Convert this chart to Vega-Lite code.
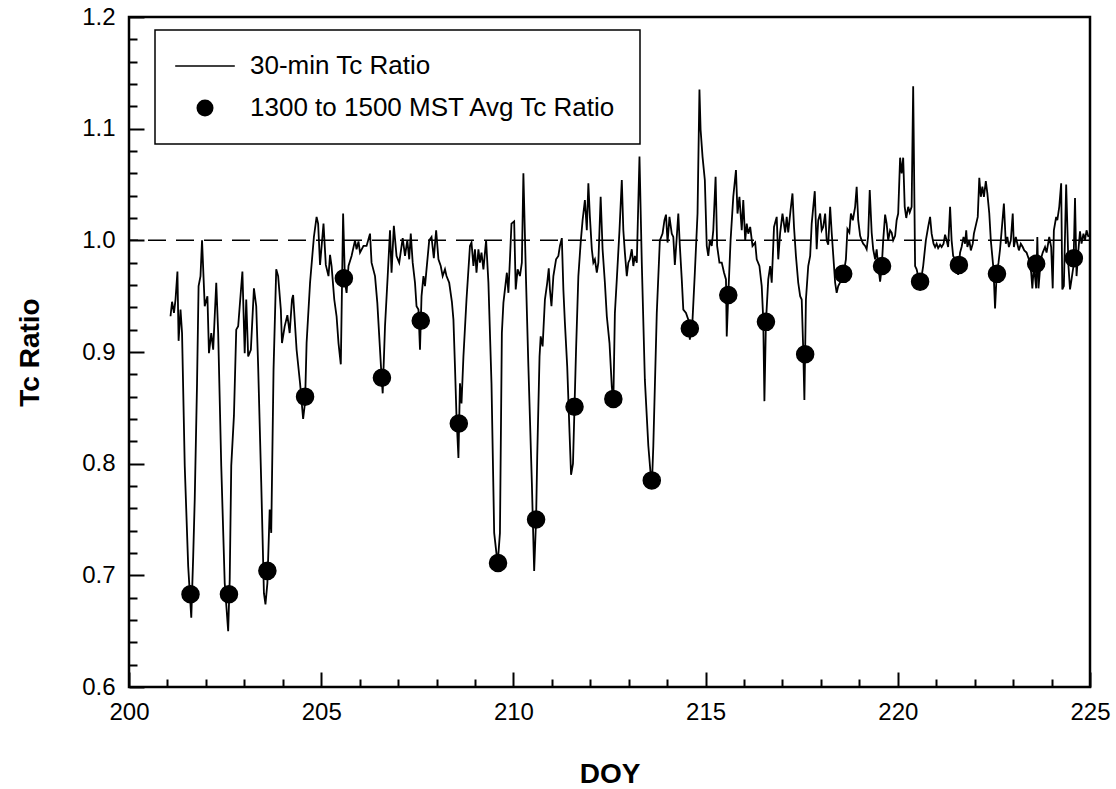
{
 "$schema": "https://vega.github.io/schema/vega-lite/v6.json",
 "width": 961, "height": 670,
 "autosize": {"type": "none"},
 "padding": {"left": 129, "top": 17, "right": 26, "bottom": 102},
 "background": "white",
 "config": {
  "font": "Liberation Sans",
  "view": {"stroke": "black", "strokeWidth": 2.5},
  "legend": {"strokeWidth": 1.5},
  "axis": {"grid": false, "domain": false, "tickColor": "black", "tickWidth": 2, "labelColor": "black", "labelFont": "Liberation Sans", "labelFontSize": 24, "titleFont": "Liberation Sans", "titleFontWeight": "bold", "titleColor": "black", "titleFontSize": 28}
 },
 "datasets": {
  "tc": [
{"DOY":201.08,"ratio":0.932},{"DOY":201.12,"ratio":0.945},{"DOY":201.17,"ratio":0.935},{"DOY":201.21,"ratio":0.947},{"DOY":201.26,"ratio":0.972},{"DOY":201.29,"ratio":0.910},{"DOY":201.34,"ratio":0.938},{"DOY":201.38,"ratio":0.917},{"DOY":201.45,"ratio":0.798},{"DOY":201.54,"ratio":0.708},{"DOY":201.62,"ratio":0.662},{"DOY":201.67,"ratio":0.717},{"DOY":201.71,"ratio":0.768},{"DOY":201.77,"ratio":0.872},{"DOY":201.81,"ratio":0.959},{"DOY":201.86,"ratio":0.968},{"DOY":201.90,"ratio":1.0},{"DOY":201.97,"ratio":0.941},{"DOY":202.04,"ratio":0.950},{"DOY":202.08,"ratio":0.899},{"DOY":202.14,"ratio":0.917},{"DOY":202.19,"ratio":0.902},{"DOY":202.23,"ratio":0.932},{"DOY":202.27,"ratio":0.962},{"DOY":202.32,"ratio":0.917},{"DOY":202.40,"ratio":0.798},{"DOY":202.49,"ratio":0.693},{"DOY":202.58,"ratio":0.650},{"DOY":202.62,"ratio":0.696},{"DOY":202.66,"ratio":0.798},{"DOY":202.73,"ratio":0.843},{"DOY":202.79,"ratio":0.920},{"DOY":202.84,"ratio":0.923},{"DOY":202.95,"ratio":0.972},{"DOY":203.01,"ratio":0.899},{"DOY":203.05,"ratio":0.947},{"DOY":203.10,"ratio":0.896},{"DOY":203.17,"ratio":0.902},{"DOY":203.25,"ratio":0.957},{"DOY":203.31,"ratio":0.941},{"DOY":203.36,"ratio":0.887},{"DOY":203.44,"ratio":0.783},{"DOY":203.51,"ratio":0.684},{"DOY":203.55,"ratio":0.674},{"DOY":203.60,"ratio":0.693},{"DOY":203.66,"ratio":0.759},{"DOY":203.70,"ratio":0.738},{"DOY":203.76,"ratio":0.884},{"DOY":203.83,"ratio":0.974},{"DOY":203.88,"ratio":0.968},{"DOY":203.95,"ratio":0.938},{"DOY":203.98,"ratio":0.908},{"DOY":204.05,"ratio":0.923},{"DOY":204.12,"ratio":0.933},{"DOY":204.18,"ratio":0.917},{"DOY":204.24,"ratio":0.947},
{"DOY":204.27,"ratio":0.951},{"DOY":204.36,"ratio":0.902},{"DOY":204.45,"ratio":0.872},{"DOY":204.53,"ratio":0.840},{"DOY":204.58,"ratio":0.855},{"DOY":204.62,"ratio":0.908},{"DOY":204.71,"ratio":0.962},{"DOY":204.81,"ratio":1.003},{"DOY":204.88,"ratio":1.021},{"DOY":204.92,"ratio":1.015},{"DOY":204.97,"ratio":0.978},{"DOY":205.06,"ratio":1.015},{"DOY":205.12,"ratio":0.978},{"DOY":205.19,"ratio":0.968},{"DOY":205.23,"ratio":0.987},{"DOY":205.27,"ratio":0.977},{"DOY":205.34,"ratio":0.947},{"DOY":205.40,"ratio":0.932},{"DOY":205.45,"ratio":0.908},{"DOY":205.51,"ratio":0.889},{"DOY":205.57,"ratio":1.024},{"DOY":205.62,"ratio":0.962},{"DOY":205.66,"ratio":0.953},{"DOY":205.71,"ratio":0.977},{"DOY":205.79,"ratio":0.986},{"DOY":205.88,"ratio":1.0},{"DOY":205.92,"ratio":0.992},{"DOY":205.97,"ratio":0.999},{"DOY":206.01,"ratio":0.989},{"DOY":206.10,"ratio":0.995},{"DOY":206.18,"ratio":0.995},{"DOY":206.27,"ratio":1.006},{"DOY":206.31,"ratio":0.980},{"DOY":206.40,"ratio":0.968},{"DOY":206.46,"ratio":0.944},{"DOY":206.51,"ratio":0.914},{"DOY":206.57,"ratio":0.878},{"DOY":206.60,"ratio":0.863},{"DOY":206.66,"ratio":0.923},{"DOY":206.73,"ratio":0.968},{"DOY":206.79,"ratio":1.009},{"DOY":206.83,"ratio":0.971},{"DOY":206.89,"ratio":1.013},{"DOY":206.96,"ratio":0.986},{"DOY":207.03,"ratio":0.980},{"DOY":207.12,"ratio":1.002},{"DOY":207.18,"ratio":0.986},{"DOY":207.24,"ratio":1.0},{"DOY":207.29,"ratio":0.983},{"DOY":207.33,"ratio":1.006},{"DOY":207.38,"ratio":0.980},{"DOY":207.44,"ratio":0.962},{"DOY":207.48,"ratio":0.941},{"DOY":207.53,"ratio":0.938},{"DOY":207.57,"ratio":0.902},{"DOY":207.61,"ratio":0.950},{"DOY":207.66,"ratio":0.968},{"DOY":207.70,"ratio":0.959},{"DOY":207.74,"ratio":0.974},{"DOY":207.81,"ratio":1.0},{"DOY":207.87,"ratio":1.003},{"DOY":207.93,"ratio":0.984},{"DOY":207.99,"ratio":1.009},{"DOY":208.05,"ratio":0.983},{"DOY":208.11,"ratio":0.977},{"DOY":208.16,"ratio":0.968},{"DOY":208.22,"ratio":0.974},{"DOY":208.26,"ratio":0.968},{"DOY":208.33,"ratio":0.962},
{"DOY":208.40,"ratio":0.945},{"DOY":208.44,"ratio":0.929},{"DOY":208.48,"ratio":0.887},{"DOY":208.52,"ratio":0.842},{"DOY":208.57,"ratio":0.805},{"DOY":208.61,"ratio":0.872},{"DOY":208.65,"ratio":0.854},{"DOY":208.70,"ratio":0.896},{"DOY":208.78,"ratio":0.947},{"DOY":208.87,"ratio":0.995},{"DOY":208.91,"ratio":0.998},{"DOY":208.96,"ratio":0.977},{"DOY":209.00,"ratio":0.992},{"DOY":209.04,"ratio":0.971},{"DOY":209.09,"ratio":0.992},{"DOY":209.13,"ratio":0.980},{"DOY":209.17,"ratio":0.989},{"DOY":209.22,"ratio":0.974},{"DOY":209.29,"ratio":1.0},{"DOY":209.35,"ratio":0.962},{"DOY":209.43,"ratio":0.872},{"DOY":209.50,"ratio":0.738},{"DOY":209.59,"ratio":0.710},{"DOY":209.65,"ratio":0.738},{"DOY":209.70,"ratio":0.917},{"DOY":209.74,"ratio":0.944},{"DOY":209.78,"ratio":0.956},{"DOY":209.83,"ratio":0.971},{"DOY":209.87,"ratio":0.953},{"DOY":209.91,"ratio":0.983},{"DOY":209.95,"ratio":1.015},{"DOY":210.02,"ratio":1.017},{"DOY":210.06,"ratio":0.956},{"DOY":210.11,"ratio":0.974},{"DOY":210.17,"ratio":0.968},{"DOY":210.22,"ratio":0.980},{"DOY":210.26,"ratio":1.060},{"DOY":210.33,"ratio":0.962},{"DOY":210.39,"ratio":0.887},{"DOY":210.48,"ratio":0.783},{"DOY":210.54,"ratio":0.704},{"DOY":210.59,"ratio":0.750},{"DOY":210.62,"ratio":0.807},{"DOY":210.68,"ratio":0.896},{"DOY":210.71,"ratio":0.914},{"DOY":210.76,"ratio":0.905},{"DOY":210.82,"ratio":0.947},{"DOY":210.88,"ratio":0.962},{"DOY":210.92,"ratio":0.975},{"DOY":210.95,"ratio":0.956},{"DOY":210.99,"ratio":0.941},{"DOY":211.04,"ratio":0.968},{"DOY":211.11,"ratio":0.983},{"DOY":211.17,"ratio":0.986},{"DOY":211.21,"ratio":0.995},{"DOY":211.26,"ratio":1.002},{"DOY":211.30,"ratio":0.956},{"DOY":211.34,"ratio":0.926},{"DOY":211.40,"ratio":0.887},{"DOY":211.46,"ratio":0.828},{"DOY":211.50,"ratio":0.790},{"DOY":211.55,"ratio":0.800},{"DOY":211.59,"ratio":0.851},{"DOY":211.63,"ratio":0.902},{"DOY":211.69,"ratio":0.968},{"DOY":211.75,"ratio":0.998},{"DOY":211.80,"ratio":1.018},{"DOY":211.86,"ratio":1.036},{"DOY":211.91,"ratio":1.009},{"DOY":211.95,"ratio":1.051},{"DOY":211.99,"ratio":1.021},{"DOY":212.04,"ratio":0.992},{"DOY":212.08,"ratio":0.980},{"DOY":212.12,"ratio":0.983},{"DOY":212.17,"ratio":0.971},{"DOY":212.21,"ratio":0.980},{"DOY":212.27,"ratio":1.039},{"DOY":212.32,"ratio":0.992},{"DOY":212.38,"ratio":0.962},{"DOY":212.43,"ratio":0.932},{"DOY":212.50,"ratio":0.908},
{"DOY":212.56,"ratio":0.869},{"DOY":212.60,"ratio":0.855},{"DOY":212.64,"ratio":0.935},{"DOY":212.69,"ratio":0.965},{"DOY":212.76,"ratio":1.009},{"DOY":212.82,"ratio":1.054},{"DOY":212.86,"ratio":1.009},{"DOY":212.90,"ratio":0.989},{"DOY":212.95,"ratio":0.968},{"DOY":212.99,"ratio":0.980},{"DOY":213.03,"ratio":0.983},{"DOY":213.08,"ratio":0.992},{"DOY":213.12,"ratio":0.977},{"DOY":213.16,"ratio":0.986},{"DOY":213.21,"ratio":0.980},{"DOY":213.28,"ratio":1.075},{"DOY":213.34,"ratio":0.980},{"DOY":213.42,"ratio":0.875},{"DOY":213.51,"ratio":0.816},{"DOY":213.60,"ratio":0.778},{"DOY":213.64,"ratio":0.816},{"DOY":213.73,"ratio":0.935},{"DOY":213.81,"ratio":1.0},{"DOY":213.88,"ratio":1.006},{"DOY":213.93,"ratio":1.018},{"DOY":213.97,"ratio":1.023},{"DOY":214.01,"ratio":0.998},{"DOY":214.06,"ratio":1.021},{"DOY":214.12,"ratio":1.006},{"DOY":214.16,"ratio":1.003},{"DOY":214.20,"ratio":0.978},{"DOY":214.25,"ratio":1.003},{"DOY":214.29,"ratio":1.024},{"DOY":214.33,"ratio":0.995},{"DOY":214.38,"ratio":0.965},{"DOY":214.42,"ratio":0.938},{"DOY":214.49,"ratio":0.935},{"DOY":214.55,"ratio":0.929},{"DOY":214.59,"ratio":0.911},{"DOY":214.66,"ratio":0.929},{"DOY":214.72,"ratio":0.971},{"DOY":214.79,"ratio":1.024},{"DOY":214.84,"ratio":1.135},{"DOY":214.87,"ratio":1.099},{"DOY":214.92,"ratio":1.075},{"DOY":214.98,"ratio":1.054},{"DOY":215.03,"ratio":0.995},{"DOY":215.07,"ratio":0.986},{"DOY":215.11,"ratio":1.0},{"DOY":215.16,"ratio":0.995},{"DOY":215.20,"ratio":1.009},{"DOY":215.26,"ratio":1.057},{"DOY":215.30,"ratio":0.995},{"DOY":215.36,"ratio":0.980},{"DOY":215.42,"ratio":0.980},{"DOY":215.48,"ratio":0.971},{"DOY":215.53,"ratio":0.965},{"DOY":215.55,"ratio":0.914},{"DOY":215.59,"ratio":0.951},{"DOY":215.65,"ratio":1.0},{"DOY":215.72,"ratio":1.039},{"DOY":215.79,"ratio":1.063},{"DOY":215.83,"ratio":1.024},{"DOY":215.88,"ratio":1.039},{"DOY":215.94,"ratio":1.009},{"DOY":215.98,"ratio":1.036},{"DOY":216.03,"ratio":1.0},{"DOY":216.07,"ratio":1.015},{"DOY":216.11,"ratio":1.006},{"DOY":216.16,"ratio":1.012},{"DOY":216.22,"ratio":0.995},{"DOY":216.29,"ratio":0.998},{"DOY":216.33,"ratio":0.983},{"DOY":216.40,"ratio":0.977},{"DOY":216.46,"ratio":0.959},{"DOY":216.50,"ratio":0.929},{"DOY":216.53,"ratio":0.856},{"DOY":216.57,"ratio":0.927},{"DOY":216.63,"ratio":0.965},
{"DOY":216.68,"ratio":0.977},{"DOY":216.72,"ratio":0.962},{"DOY":216.78,"ratio":1.012},{"DOY":216.85,"ratio":1.021},{"DOY":216.89,"ratio":0.983},{"DOY":216.94,"ratio":1.007},{"DOY":217.00,"ratio":1.024},{"DOY":217.07,"ratio":1.007},{"DOY":217.11,"ratio":1.021},{"DOY":217.15,"ratio":1.007},{"DOY":217.21,"ratio":1.027},{"DOY":217.26,"ratio":1.042},{"DOY":217.30,"ratio":1.012},{"DOY":217.35,"ratio":0.986},{"DOY":217.41,"ratio":0.962},{"DOY":217.46,"ratio":0.950},{"DOY":217.50,"ratio":0.947},{"DOY":217.54,"ratio":0.902},{"DOY":217.57,"ratio":0.857},{"DOY":217.61,"ratio":0.947},{"DOY":217.67,"ratio":0.977},{"DOY":217.72,"ratio":0.986},{"DOY":217.76,"ratio":1.015},{"DOY":217.84,"ratio":1.044},{"DOY":217.89,"ratio":0.992},{"DOY":217.93,"ratio":1.018},{"DOY":217.98,"ratio":1.024},{"DOY":218.02,"ratio":1.009},{"DOY":218.06,"ratio":1.012},{"DOY":218.11,"ratio":1.024},{"DOY":218.15,"ratio":1.0},{"DOY":218.19,"ratio":0.996},{"DOY":218.24,"ratio":1.03},{"DOY":218.28,"ratio":1.007},{"DOY":218.37,"ratio":0.962},{"DOY":218.41,"ratio":0.953},{"DOY":218.45,"ratio":0.959},{"DOY":218.51,"ratio":0.963},{"DOY":218.58,"ratio":0.968},{"DOY":218.65,"ratio":0.983},{"DOY":218.69,"ratio":1.010},{"DOY":218.74,"ratio":1.007},{"DOY":218.78,"ratio":1.024},{"DOY":218.83,"ratio":1.018},{"DOY":218.89,"ratio":1.030},{"DOY":218.93,"ratio":1.048},{"DOY":218.97,"ratio":1.018},{"DOY":219.02,"ratio":1.004},{"DOY":219.06,"ratio":1.0},{"DOY":219.10,"ratio":0.997},{"DOY":219.15,"ratio":0.995},{"DOY":219.19,"ratio":0.992},{"DOY":219.23,"ratio":1.004},{"DOY":219.27,"ratio":1.045},{"DOY":219.32,"ratio":1.007},{"DOY":219.36,"ratio":0.992},{"DOY":219.41,"ratio":0.983},{"DOY":219.45,"ratio":0.992},{"DOY":219.49,"ratio":0.977},{"DOY":219.54,"ratio":0.963},{"DOY":219.58,"ratio":0.975},{"DOY":219.62,"ratio":1.0},{"DOY":219.67,"ratio":1.023},{"DOY":219.71,"ratio":1.015},{"DOY":219.75,"ratio":1.0},{"DOY":219.80,"ratio":1.009},{"DOY":219.84,"ratio":1.007},{"DOY":219.88,"ratio":1.0},{"DOY":219.93,"ratio":1.004},{"DOY":219.97,"ratio":1.018},{"DOY":220.01,"ratio":1.024},{"DOY":220.06,"ratio":1.074},{"DOY":220.10,"ratio":1.060},{"DOY":220.14,"ratio":1.074},{"DOY":220.18,"ratio":1.030},{"DOY":220.22,"ratio":1.020},{"DOY":220.27,"ratio":1.030},{"DOY":220.31,"ratio":1.025},{"DOY":220.36,"ratio":1.030},{"DOY":220.40,"ratio":1.138},{"DOY":220.45,"ratio":0.977},{"DOY":220.49,"ratio":0.974},{"DOY":220.53,"ratio":0.968},{"DOY":220.58,"ratio":0.958},{"DOY":220.62,"ratio":0.968},{"DOY":220.66,"ratio":0.977},{"DOY":220.73,"ratio":1.0},{"DOY":220.79,"ratio":1.012},
{"DOY":220.84,"ratio":1.021},{"DOY":220.88,"ratio":1.006},{"DOY":220.93,"ratio":0.997},{"DOY":220.97,"ratio":0.994},{"DOY":221.01,"ratio":0.997},{"DOY":221.05,"ratio":0.993},{"DOY":221.10,"ratio":0.996},{"DOY":221.14,"ratio":0.994},{"DOY":221.19,"ratio":0.997},{"DOY":221.23,"ratio":1.005},{"DOY":221.27,"ratio":1.0},{"DOY":221.31,"ratio":0.994},{"DOY":221.36,"ratio":1.030},{"DOY":221.40,"ratio":1.0},{"DOY":221.44,"ratio":0.986},{"DOY":221.53,"ratio":0.981},{"DOY":221.57,"ratio":0.969},{"DOY":221.62,"ratio":0.989},{"DOY":221.66,"ratio":0.994},{"DOY":221.71,"ratio":1.003},{"DOY":221.75,"ratio":0.997},{"DOY":221.78,"ratio":1.009},{"DOY":221.81,"ratio":0.994},{"DOY":221.86,"ratio":1.0},{"DOY":221.90,"ratio":0.991},{"DOY":221.95,"ratio":0.997},{"DOY":221.98,"ratio":1.006},{"DOY":222.04,"ratio":1.015},{"DOY":222.08,"ratio":1.021},{"DOY":222.12,"ratio":1.056},{"DOY":222.16,"ratio":1.039},{"DOY":222.20,"ratio":1.048},{"DOY":222.24,"ratio":1.039},{"DOY":222.29,"ratio":1.053},{"DOY":222.33,"ratio":1.042},{"DOY":222.38,"ratio":1.024},{"DOY":222.42,"ratio":1.0},{"DOY":222.49,"ratio":0.974},{"DOY":222.53,"ratio":0.939},{"DOY":222.57,"ratio":0.968},{"DOY":222.62,"ratio":0.980},{"DOY":222.66,"ratio":0.992},{"DOY":222.70,"ratio":1.008},{"DOY":222.76,"ratio":1.033},{"DOY":222.81,"ratio":0.997},{"DOY":222.85,"ratio":1.003},{"DOY":222.89,"ratio":0.994},{"DOY":222.94,"ratio":1.0},{"DOY":222.99,"ratio":1.024},{"DOY":223.02,"ratio":0.994},{"DOY":223.07,"ratio":1.003},{"DOY":223.11,"ratio":0.997},{"DOY":223.15,"ratio":0.991},{"DOY":223.20,"ratio":0.997},{"DOY":223.25,"ratio":0.994},{"DOY":223.29,"ratio":0.991},{"DOY":223.35,"ratio":0.989},{"DOY":223.41,"ratio":0.983},{"DOY":223.47,"ratio":0.971},{"DOY":223.50,"ratio":0.957},{"DOY":223.54,"ratio":0.977},{"DOY":223.60,"ratio":0.957},{"DOY":223.63,"ratio":1.003},{"DOY":223.66,"ratio":0.957},{"DOY":223.72,"ratio":0.983},{"DOY":223.77,"ratio":0.989},{"DOY":223.83,"ratio":0.994},{"DOY":223.87,"ratio":0.989},{"DOY":223.94,"ratio":1.003},{"DOY":223.99,"ratio":0.994},{"DOY":224.03,"ratio":0.957},{"DOY":224.06,"ratio":1.009},{"DOY":224.12,"ratio":1.021},{"DOY":224.15,"ratio":1.018},{"DOY":224.20,"ratio":1.030},{"DOY":224.25,"ratio":1.051},{"DOY":224.28,"ratio":0.956},{"DOY":224.32,"ratio":0.959},{"DOY":224.38,"ratio":1.050},{"DOY":224.44,"ratio":0.977},{"DOY":224.48,"ratio":0.956},{"DOY":224.52,"ratio":0.965},{"DOY":224.57,"ratio":0.977},{"DOY":224.61,"ratio":1.038},{"DOY":224.65,"ratio":0.968},{"DOY":224.70,"ratio":0.992},{"DOY":224.74,"ratio":1.008},{"DOY":224.78,"ratio":0.997},{"DOY":224.83,"ratio":1.006},{"DOY":224.87,"ratio":1.0},{"DOY":224.91,"ratio":1.009},{"DOY":224.96,"ratio":1.003}
  ],
  "avg": [
{"DOY":201.6,"ratio":0.683,"series":"1300 to 1500 MST Avg Tc Ratio"},
{"DOY":202.6,"ratio":0.683,"series":"1300 to 1500 MST Avg Tc Ratio"},
{"DOY":203.6,"ratio":0.704,"series":"1300 to 1500 MST Avg Tc Ratio"},
{"DOY":204.58,"ratio":0.860,"series":"1300 to 1500 MST Avg Tc Ratio"},
{"DOY":205.59,"ratio":0.966,"series":"1300 to 1500 MST Avg Tc Ratio"},
{"DOY":206.58,"ratio":0.877,"series":"1300 to 1500 MST Avg Tc Ratio"},
{"DOY":207.59,"ratio":0.928,"series":"1300 to 1500 MST Avg Tc Ratio"},
{"DOY":208.58,"ratio":0.836,"series":"1300 to 1500 MST Avg Tc Ratio"},
{"DOY":209.6,"ratio":0.711,"series":"1300 to 1500 MST Avg Tc Ratio"},
{"DOY":210.59,"ratio":0.750,"series":"1300 to 1500 MST Avg Tc Ratio"},
{"DOY":211.59,"ratio":0.851,"series":"1300 to 1500 MST Avg Tc Ratio"},
{"DOY":212.6,"ratio":0.858,"series":"1300 to 1500 MST Avg Tc Ratio"},
{"DOY":213.6,"ratio":0.785,"series":"1300 to 1500 MST Avg Tc Ratio"},
{"DOY":214.59,"ratio":0.921,"series":"1300 to 1500 MST Avg Tc Ratio"},
{"DOY":215.59,"ratio":0.951,"series":"1300 to 1500 MST Avg Tc Ratio"},
{"DOY":216.57,"ratio":0.927,"series":"1300 to 1500 MST Avg Tc Ratio"},
{"DOY":217.59,"ratio":0.898,"series":"1300 to 1500 MST Avg Tc Ratio"},
{"DOY":218.58,"ratio":0.970,"series":"1300 to 1500 MST Avg Tc Ratio"},
{"DOY":219.59,"ratio":0.977,"series":"1300 to 1500 MST Avg Tc Ratio"},
{"DOY":220.58,"ratio":0.963,"series":"1300 to 1500 MST Avg Tc Ratio"},
{"DOY":221.59,"ratio":0.978,"series":"1300 to 1500 MST Avg Tc Ratio"},
{"DOY":222.58,"ratio":0.970,"series":"1300 to 1500 MST Avg Tc Ratio"},
{"DOY":223.6,"ratio":0.979,"series":"1300 to 1500 MST Avg Tc Ratio"},
{"DOY":224.58,"ratio":0.984,"series":"1300 to 1500 MST Avg Tc Ratio"}
  ]
 },
 "layer": [
  {
   "data": {"values": [{}]},
   "mark": {"type": "rule", "strokeDash": [18, 10], "strokeWidth": 1.5, "color": "black"},
   "encoding": {"y": {"datum": 1, "type": "quantitative", "axis": null, "scale": {"domain": [0.6, 1.2], "nice": false, "zero": false}}}
  },
  {
   "data": {"name": "tc"},
   "mark": {"type": "line", "color": "black", "strokeWidth": 1.8},
   "encoding": {
    "x": {"field": "DOY", "type": "quantitative", "scale": {"domain": [200, 225], "nice": false, "zero": false},
          "axis": {"orient": "bottom", "title": "DOY", "values": [200, 205, 210, 215, 220, 225], "format": "d", "offset": -15, "tickSize": 15, "labelPadding": 13, "titlePadding": 36, "labelFlush": false, "labelOverlap": false}},
    "y": {"field": "ratio", "type": "quantitative", "scale": {"domain": [0.6, 1.2], "nice": false, "zero": false},
          "axis": {"orient": "left", "title": "Tc Ratio", "values": [0.6, 0.7, 0.8, 0.9, 1.0, 1.1, 1.2], "format": ".1f", "offset": -15, "tickSize": 15, "labelPadding": 14, "titlePadding": 37, "labelFlush": false, "labelOverlap": false}}
   }
  },
  {
   "data": {"name": "avg"},
   "mark": {"type": "point", "filled": true, "color": "black", "fill": "black", "stroke": "black", "strokeWidth": 1.5, "size": 290, "opacity": 1},
   "encoding": {
    "x": {"field": "DOY", "type": "quantitative", "scale": {"domain": [200, 225], "nice": false, "zero": false},
          "axis": {"orient": "bottom", "title": null, "labels": false, "offset": -8, "tickSize": 8, "values": [201,202,203,204,206,207,208,209,211,212,213,214,216,217,218,219,221,222,223,224]}},
    "y": {"field": "ratio", "type": "quantitative", "scale": {"domain": [0.6, 1.2], "nice": false, "zero": false},
          "axis": {"orient": "left", "title": null, "labels": false, "offset": -8, "tickSize": 8, "values": [0.62,0.64,0.66,0.68,0.72,0.74,0.76,0.78,0.82,0.84,0.86,0.88,0.92,0.94,0.96,0.98,1.02,1.04,1.06,1.08,1.12,1.14,1.16,1.18]}},
    "shape": {"field": "series", "type": "nominal",
      "scale": {"domain": ["30-min Tc Ratio", "1300 to 1500 MST Avg Tc Ratio"], "range": ["M-3.5,-0.1H3.5V0.1H-3.5Z", "circle"]},
      "legend": {"title": null, "orient": "none", "legendX": 26, "legendY": 13, "strokeColor": "black", "fillColor": "white", "padding": 23, "labelFontSize": 26, "labelFont": "Liberation Sans", "labelColor": "black", "symbolSize": 290, "symbolFillColor": "black", "symbolStrokeColor": "black", "symbolStrokeWidth": 1.5, "symbolOffset": 14, "labelOffset": 32, "rowPadding": 16, "labelLimit": 0}}
   }
  }
 ],
 "resolve": {"axis": {"x": "independent", "y": "independent"}}
}
